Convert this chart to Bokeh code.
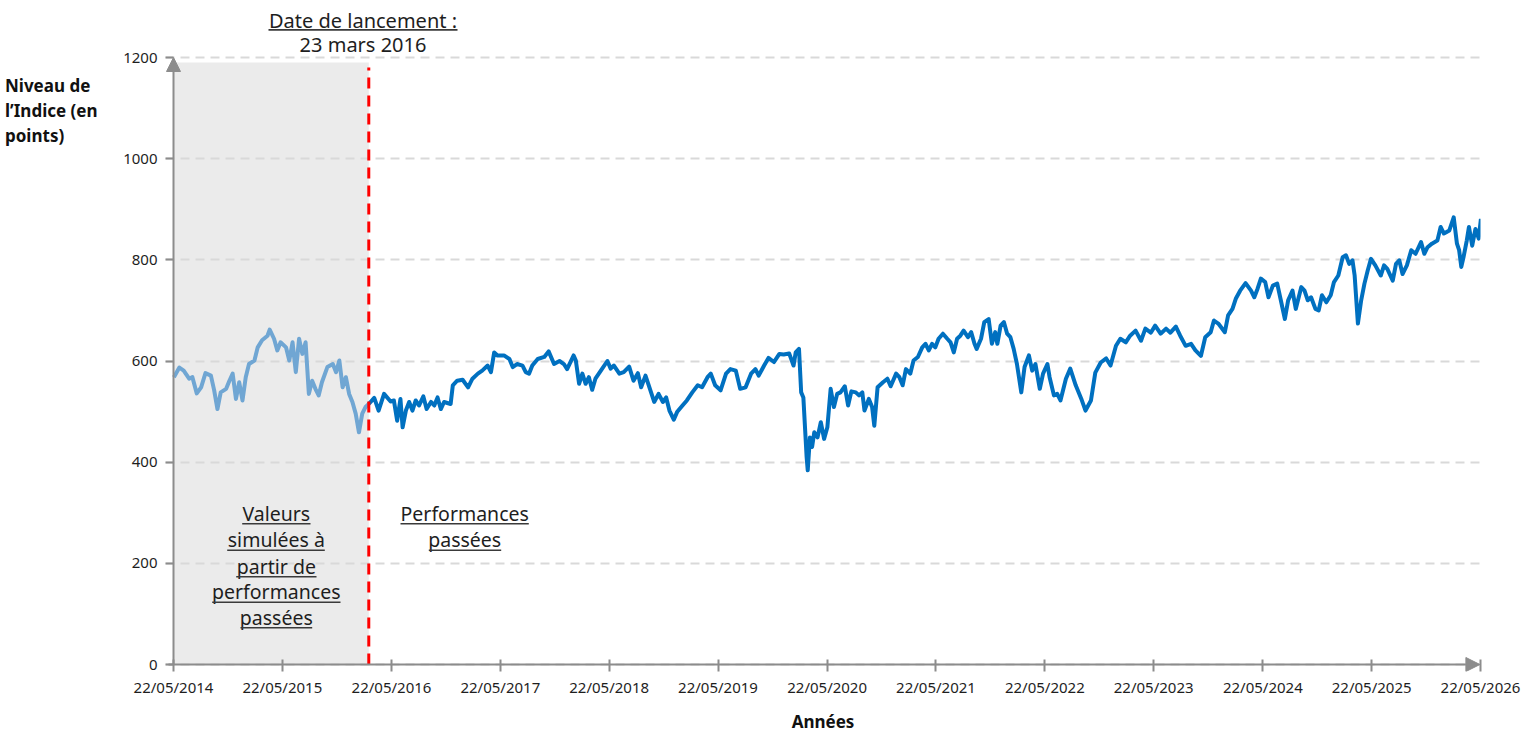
import numpy as np
import pandas as pd
from bokeh.plotting import figure
from bokeh.layouts import row
from bokeh.models import (FixedTicker, DatetimeTickFormatter, BoxAnnotation, Label,
                          Arrow, NormalHead, Range1d)
from bokeh.embed import file_html
from bokeh.resources import INLINE

# ---------------- DATA ----------------
# dates given as fractional years
sim_years = [2014.39, 2014.44, 2014.48, 2014.53, 2014.56, 2014.60, 2014.64, 2014.68, 2014.73, 2014.76,
             2014.79, 2014.82, 2014.87, 2014.90, 2014.93, 2014.96, 2014.99,
             2015.02, 2015.05, 2015.08, 2015.13, 2015.16, 2015.20, 2015.25, 2015.27, 2015.31, 2015.34,
             2015.37, 2015.42, 2015.45, 2015.48, 2015.51, 2015.54, 2015.57, 2015.60, 2015.63, 2015.66,
             2015.69, 2015.72, 2015.75, 2015.80, 2015.85, 2015.88, 2015.91, 2015.94, 2015.97,
             2016.00, 2016.03, 2016.06, 2016.09, 2016.12, 2016.15]
sim_values = [568, 587, 581, 565, 568, 536, 548, 576, 571, 542,
              505, 538, 545, 561, 575, 525, 558,
              522, 568, 594, 601, 627, 641, 650, 662, 644, 621,
              637, 627, 601, 637, 578, 644, 614, 637, 535, 561,
              545, 532, 558, 588, 594, 578, 601, 548, 568,
              535, 519, 496, 459, 496, 509]

perf_years = [
    2016.18, 2016.23, 2016.27, 2016.32, 2016.38, 2016.41, 2016.44, 2016.47, 2016.49, 2016.52,
    2016.55, 2016.58, 2016.61, 2016.64, 2016.68, 2016.71, 2016.75, 2016.78, 2016.81, 2016.84,
    2016.87, 2016.93, 2016.95, 2016.99, 2017.04, 2017.09, 2017.13, 2017.18, 2017.22, 2017.27,
    2017.30, 2017.33, 2017.36, 2017.42, 2017.47, 2017.50, 2017.54, 2017.59, 2017.62, 2017.65,
    2017.68, 2017.73, 2017.79, 2017.83, 2017.88, 2017.93, 2017.97, 2018.00, 2018.06, 2018.08,
    2018.11, 2018.14, 2018.17, 2018.20, 2018.23, 2018.26, 2018.31, 2018.37, 2018.40, 2018.43,
    2018.48, 2018.52, 2018.57, 2018.61, 2018.65, 2018.68, 2018.72, 2018.75, 2018.80, 2018.84,
    2018.88, 2018.91, 2018.94, 2018.98, 2019.01, 2019.06, 2019.10, 2019.15, 2019.20, 2019.24,
    2019.29, 2019.32, 2019.36, 2019.41, 2019.46, 2019.50, 2019.55, 2019.59, 2019.64, 2019.69,
    2019.73, 2019.76, 2019.81, 2019.85, 2019.90, 2019.95, 2019.99, 2020.04, 2020.08, 2020.10,
    2020.13, 2020.15, 2020.17, 2020.20, 2020.21, 2020.23, 2020.25, 2020.27, 2020.30, 2020.33,
    2020.36, 2020.39, 2020.42, 2020.45, 2020.48, 2020.51, 2020.55, 2020.58, 2020.61, 2020.65,
    2020.68, 2020.71, 2020.73, 2020.77, 2020.80, 2020.82, 2020.85, 2020.90, 2020.94, 2020.97,
    2021.02, 2021.05, 2021.08, 2021.11, 2021.15, 2021.18, 2021.22, 2021.26, 2021.29, 2021.32,
    2021.35, 2021.38, 2021.41, 2021.45, 2021.49, 2021.52, 2021.55, 2021.58, 2021.61, 2021.64,
    2021.68, 2021.71, 2021.74, 2021.76, 2021.80, 2021.83, 2021.87, 2021.90, 2021.93, 2021.95,
    2021.98, 2022.01, 2022.04, 2022.07, 2022.10, 2022.13, 2022.17, 2022.20, 2022.24, 2022.27,
    2022.30, 2022.34, 2022.37, 2022.41, 2022.43, 2022.47, 2022.50, 2022.53, 2022.58, 2022.62,
    2022.67, 2022.72, 2022.76, 2022.81, 2022.85, 2022.90, 2022.95, 2022.99, 2023.04, 2023.08,
    2023.13, 2023.17, 2023.22, 2023.27, 2023.31, 2023.36, 2023.40, 2023.45, 2023.50, 2023.54,
    2023.59, 2023.63, 2023.68, 2023.73, 2023.77, 2023.82, 2023.86, 2023.91, 2023.94, 2023.98,
    2024.04, 2024.07, 2024.11, 2024.14, 2024.18, 2024.23, 2024.28, 2024.31, 2024.34, 2024.37,
    2024.41, 2024.44, 2024.48, 2024.52, 2024.55, 2024.59, 2024.62, 2024.66, 2024.69, 2024.74,
    2024.77, 2024.80, 2024.83, 2024.87, 2024.90, 2024.93, 2024.97, 2025.01, 2025.04, 2025.08,
    2025.12, 2025.15, 2025.18, 2025.21, 2025.23, 2025.26, 2025.29, 2025.32, 2025.35, 2025.38,
    2025.42, 2025.47, 2025.50, 2025.53, 2025.58, 2025.61, 2025.64, 2025.67, 2025.71, 2025.75,
    2025.79, 2025.84, 2025.87, 2025.90, 2025.94, 2025.99, 2026.02, 2026.05, 2026.10, 2026.14,
    2026.17, 2026.19, 2026.21, 2026.23, 2026.26, 2026.28, 2026.31, 2026.34, 2026.37, 2026.39]
perf_values = [
    515, 527, 502, 535, 520, 522, 482, 525, 469, 502,
    519, 502, 522, 512, 530, 505, 519, 512, 528, 505,
    519, 515, 552, 561, 563, 548, 565, 575, 581, 591,
    578, 617, 611, 611, 604, 588, 594, 591, 578, 575,
    591, 604, 608, 619, 594, 600, 594, 584, 611, 601,
    555, 575, 555, 568, 543, 565, 581, 600, 585, 591,
    575, 578, 589, 561, 576, 548, 571, 552, 519, 535,
    519, 528, 502, 484, 499, 512, 522, 538, 552, 548,
    568, 575, 552, 542, 575, 584, 581, 545, 548, 575,
    584, 571, 591, 606, 598, 614, 613, 615, 591, 617,
    624, 538, 528, 410, 384, 449, 430, 459, 449, 479,
    446, 469, 545, 509, 535, 538, 550, 512, 540, 538,
    532, 538, 502, 525, 509, 472, 548, 558, 565, 550,
    575, 568, 552, 584, 575, 601, 608, 627, 634, 621,
    634, 627, 644, 654, 644, 637, 617, 644, 650, 660,
    647, 657, 634, 624, 644, 677, 683, 634, 657, 634,
    670, 677, 654, 647, 624, 594, 538, 588, 611, 581,
    594, 545, 575, 594, 568, 532, 535, 522, 565, 585,
    552, 526, 502, 522, 577, 597, 605, 591, 630, 644,
    637, 650, 660, 640, 664, 656, 670, 654, 664, 656,
    668, 650, 630, 634, 621, 610, 647, 657, 680, 674,
    657, 690, 703, 723, 739, 754, 739, 726, 743, 763,
    756, 726, 749, 753, 723, 683, 720, 739, 703, 746,
    739, 720, 726, 703, 700, 730, 716, 730, 756, 769,
    805, 809, 792, 799, 769, 674, 720, 753, 779, 802,
    789, 769, 789, 782, 759, 792, 799, 772, 789, 819,
    812, 835, 812, 825, 832, 838, 865, 852, 858, 884,
    832, 819, 786, 805, 838, 865, 828, 861, 842, 881]

launch_year = 2016.18          # position of the launch marker on the time axis
tick_dates = ["2014-05-22", "2015-05-22", "2016-05-22", "2017-05-22", "2018-05-22",
              "2019-05-22", "2020-05-22", "2021-05-22", "2022-05-22", "2023-05-22",
              "2024-05-22", "2025-05-22", "2026-05-22"]
y_ticks = [0, 200, 400, 600, 800, 1000, 1200]
y_max = 1200


def frac_to_dt(y):
    yr = int(np.floor(y))
    a = pd.Timestamp(yr, 1, 1)
    b = pd.Timestamp(yr + 1, 1, 1)
    return a + (b - a) * (y - yr)


def to_ms(ts):
    return pd.Timestamp(ts).value / 1e6


sim_dt = [frac_to_dt(v) for v in sim_years] + [frac_to_dt(perf_years[0])]
sim_v = sim_values + [perf_values[0]]
perf_dt = [frac_to_dt(v) for v in perf_years]
launch_dt = frac_to_dt(launch_year)

x_start = pd.Timestamp(tick_dates[0])
x_end = pd.Timestamp(tick_dates[-1])

# ---------------- LAYOUT (page pixels) ----------------
W, H = 1532, 736
LEFT_W = 112                          # side panel holding the y title
AX_X, AX_TOP, AX_Y0 = 173, 57, 664    # y-axis x, 1200 level, 0 level
FR_L, FR_R, FR_T, FR_B = 165, 1480, 0, 671   # main frame edges
px_per_val = (AX_Y0 - AX_TOP) / y_max
plot_days = (x_end - x_start) / pd.Timedelta(days=1)
px_per_day = (FR_R - AX_X) / plot_days
x_lo = x_start - pd.Timedelta(days=(AX_X - FR_L) / px_per_day)
y_lo = -(FR_B - AX_Y0) / px_per_val
y_hi = (AX_Y0 - FR_T) / px_per_val
DAY_MS = 86400000.0

FONT = "Noto Sans"
AXIS_COL = "#8c8c8c"
TXT = "#1e1e1e"


def SX(X):
    return X - FR_L


def SY(Y):
    return FR_B - Y


# ---------------- LEFT PANEL (y title) ----------------
# its frame is aligned with the main frame (page rows FR_T..FR_B)
pl = figure(width=LEFT_W, height=H, x_range=Range1d(0, LEFT_W), y_range=Range1d(FR_B, FR_T),
            x_axis_location=None, y_axis_location=None, output_backend="svg",
            toolbar_location=None, min_border=0)
pl.outline_line_color = None
pl.grid.visible = False
for t, yc in [("Niveau de", 85.1), ("l\u2019Indice (en", 110.1), ("points)", 135.1)]:
    pl.add_layout(Label(x=4.5, y=yc, text=t, text_font=FONT, text_font_size="17px",
                        text_font_style="bold", text_color="#111111",
                        text_align="left", text_baseline="middle"))

# ---------------- MAIN FIGURE ----------------
MW = W - LEFT_W
p = figure(width=MW, height=H, x_axis_type="datetime",
           x_range=Range1d(x_lo, x_end), y_range=Range1d(y_lo, y_hi),
           output_backend="svg", toolbar_location=None,
           min_border_left=FR_L - LEFT_W, min_border_right=MW - (FR_R - LEFT_W),
           min_border_top=FR_T, min_border_bottom=H - FR_B)
p.outline_line_color = None

# shaded "simulated" area
p.add_layout(BoxAnnotation(left=to_ms(x_start), right=to_ms(launch_dt), bottom=0, top=1190,
                           fill_color="#ebebeb", fill_alpha=1.0, line_alpha=0, level="image"))

# grid
p.xgrid.visible = False
p.ygrid.ticker = FixedTicker(ticks=y_ticks)
p.ygrid.grid_line_color = "#d9d9d9"
p.ygrid.grid_line_width = 2
p.ygrid.grid_line_dash = "9 6"

# axes (their lines are drawn by the arrows below)
p.xaxis.ticker = FixedTicker(ticks=[to_ms(d) for d in tick_dates])
fmt = "%d/%m/%Y"
p.xaxis.formatter = DatetimeTickFormatter(milliseconds=fmt, seconds=fmt, minsec=fmt, minutes=fmt,
                                          hourmin=fmt, hours=fmt, days=fmt, months=fmt, years=fmt)
p.yaxis.ticker = FixedTicker(ticks=y_ticks)
for ax in (p.xaxis, p.yaxis):
    ax.axis_line_color = None
    ax.major_tick_line_color = AXIS_COL
    ax.major_tick_line_width = 2
    ax.minor_tick_line_color = None
    ax.major_label_text_font = FONT
    ax.major_label_text_font_size = "15px"
    ax.major_label_text_color = TXT
p.xaxis.major_tick_in = 12
p.xaxis.major_tick_out = 0
p.xaxis.major_label_standoff = 5
p.xaxis.axis_label = "Ann\u00e9es"
p.xaxis.axis_label_text_font = FONT
p.xaxis.axis_label_text_font_size = "17px"
p.xaxis.axis_label_text_font_style = "bold"
p.xaxis.axis_label_text_color = "#111111"
p.xaxis.axis_label_standoff = 10
p.yaxis.major_tick_in = 8
p.yaxis.major_tick_out = 0
p.yaxis.major_label_standoff = 8

# series
p.line(sim_dt, sim_v, line_color="#70a6d3", line_width=4, line_join="round")
p.line(perf_dt, perf_values, line_color="#0070c0", line_width=4, line_join="round")

# launch marker
p.segment(x0=[launch_dt], x1=[launch_dt], y0=[0], y1=[1180],
          line_color="#ff0000", line_width=3, line_dash="11 7")

# axis lines with arrow heads
head = dict(size=14, fill_color=AXIS_COL, line_color=AXIS_COL, line_width=1)
p.add_layout(Arrow(end=NormalHead(**head), x_start=to_ms(x_start), y_start=0,
                   x_end=to_ms(x_start), y_end=y_max, line_color=AXIS_COL, line_width=2))
p.add_layout(Arrow(end=NormalHead(**head), x_start=to_ms(x_start) - 5 / px_per_day * DAY_MS, y_start=0,
                   x_end=to_ms(x_end) - 2 * DAY_MS, y_end=0, line_color=AXIS_COL, line_width=2))


# ---------------- TEXTS ----------------
def label(text, X, Yc, size):
    p.add_layout(Label(x=SX(X), y=SY(Yc), x_units="screen", y_units="screen", text=text,
                       text_font=FONT, text_font_size=size, text_color=TXT,
                       text_align="center", text_baseline="middle"))


def underline(X0, X1, Y):
    p.add_layout(BoxAnnotation(left=SX(X0), right=SX(X1), top=SY(Y), bottom=SY(Y + 1.6),
                               left_units="screen", right_units="screen",
                               top_units="screen", bottom_units="screen",
                               fill_color="#3a3a3a", fill_alpha=1.0, line_alpha=0))


label("Date de lancement :", 362.5, 19.5, "20px")
underline(268, 457, 28.6)
label("23 mars 2016", 362.5, 43.9, "20px")

# (text, baseline, underline start, underline end)
sim_lines = [("Valeurs", 520.5, 241.7, 310.0),
             ("simul\u00e9es \u00e0", 547.0, 226.7, 324.3),
             ("partir de", 573.5, 235.7, 316.0),
             ("performances", 599.0, 211.7, 340.0),
             ("pass\u00e9es", 624.5, 240.0, 311.7)]
for t, b, a0, a1 in sim_lines:
    label(t, 275.8, b - 7.6, "19.5px")
    underline(a0, a1, b + 2)

perf_lines = [("Performances", 520.5, 400.0, 528.3),
              ("pass\u00e9es", 547.0, 428.3, 500.7)]
for t, b, a0, a1 in perf_lines:
    label(t, 464.2, b - 7.6, "19.5px")
    underline(a0, a1, b + 2)

open("out.html", "w").write(file_html(row(pl, p), INLINE))
